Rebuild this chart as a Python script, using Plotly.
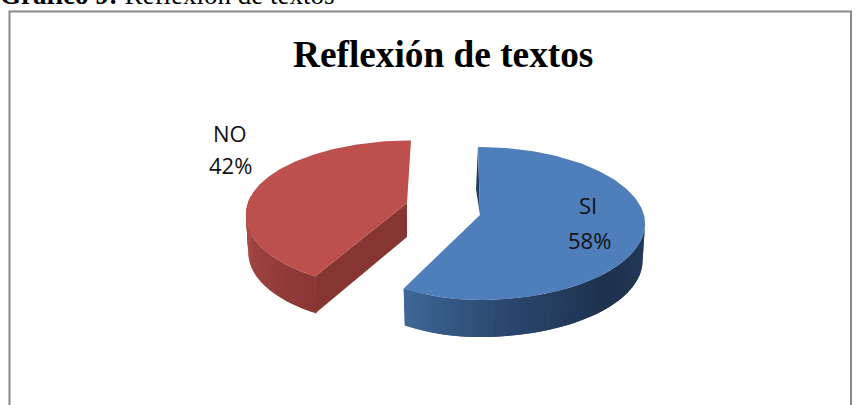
import numpy as np
import plotly.graph_objects as go

categories = ["SI", "NO"]
values = [58, 42]
face_colors = ["#4e7fbb", "#bd504c"]
title_text = "Reflexión de textos"
caption_bold = "Gráfico 9:"
caption_rest = " Reflexión de textos"

W, H = 862, 405
K = 0.111
RY = 75.6
DEPTH = 37
CENTERS = [(480, 215), (407, 203)]
RADII = [164, 159]
LEFT_RADII = [143, 159]
BACK_SCALE = [1.0, 0.92]
BACK_SHIFT = [-2, 4]
FRONT_SHIFT = [0, -8]
NAME_POS = [(588, 205), (230, 133)]
PCT_POS = [(589, 240), (230, 165)]


def rim(i, deg):
    t = np.radians(deg)
    sn, cs = np.sin(t), np.cos(t)
    s = 1 / (1 - K * sn)
    rx = RADII[i] if cs >= 0 else LEFT_RADII[i]
    ry = RY * (BACK_SCALE[i] if sn < 0 else 1.0)
    return (CENTERS[i][0] + rx * cs * s + BACK_SHIFT[i] * max(-sn, 0) + FRONT_SHIFT[i] * max(sn, 0),
            CENTERS[i][1] + ry * sn * s)


def mix(a, b, f):
    return "rgb(%d,%d,%d)" % tuple(round(a[k] + (b[k] - a[k]) * f) for k in range(3))


def poly(fig, xs, ys, color):
    fig.add_trace(go.Scatter(x=list(xs), y=list(ys), mode="lines", fill="toself",
                             fillcolor=color, line=dict(width=0),
                             hoverinfo="skip", showlegend=False))


def wall(fig, i, a0, a1, stops, n=60):
    # painted from the far end so each strip overlaps the previous one (no seams)
    angles = np.linspace(a0, a1, n + 1)
    cx = CENTERS[i][0]
    step = angles[1] - angles[0]
    for k in range(n):
        a_end = angles[k + 1] + step if k < n - 1 else angles[k + 1]
        arc = [rim(i, a) for a in (angles[k], angles[k + 1], a_end)]
        tx = [p[0] for p in arc]
        ty = [p[1] for p in arc]
        bx = [cx + (x - cx) * 0.985 for x in tx]
        by = [y + DEPTH for y in ty]
        f = (k + 0.5) / n * (len(stops) - 1)
        j = min(int(f), len(stops) - 2)
        poly(fig, tx + bx[::-1], ty + by[::-1], mix(stops[j], stops[j + 1], f - j))


fig = go.Figure()
start = -90
split = start + values[0] / sum(values) * 360
end = start + 360

# blue outer wall (stops run from the right end to the front-left corner)
wall(fig, 0, 8, split, [(0x23, 0x3b, 0x5c), (0x1e, 0x31, 0x4d), (0x2a, 0x47, 0x6e), (0x3f, 0x68, 0x98)])
# blue back sliver
c = CENTERS[0]
tx, ty = rim(0, start)
poly(fig, [tx, c[0], tx - 2], [ty, c[1], (ty + c[1]) / 2 + 8], "#1f3a5c")

# red inner wall and outer wall
c2 = CENTERS[1]
sx, sy = rim(1, split)
poly(fig, [c2[0], sx, sx, c2[0]], [c2[1], sy, sy + DEPTH, c2[1] + DEPTH - 3], "#873533")
wall(fig, 1, split, 186, [(0x8a, 0x37, 0x35), (0x9c, 0x42, 0x3f), (0xb0, 0x4d, 0x4a)])

# top faces
for i, c in enumerate(CENTERS):
    a0, a1 = (start, split) if i == 0 else (split, end)
    pts = [rim(i, a) for a in np.linspace(a0, a1, 160)]
    poly(fig, [c[0]] + [p[0] for p in pts], [c[1]] + [p[1] for p in pts], face_colors[i])

for name, val, np_, pp in zip(categories, values, NAME_POS, PCT_POS):
    fig.add_annotation(x=np_[0], y=np_[1], text=name, showarrow=False,
                       font=dict(family="Open Sans", size=22, color="#111"))
    fig.add_annotation(x=pp[0], y=pp[1], text=f"{val}%", showarrow=False,
                       font=dict(family="Open Sans", size=22, color="#111"))

fig.add_annotation(x=442.5, y=54, text=f"<b>{title_text}</b>", showarrow=False,
                   font=dict(family="Liberation Serif", size=37.3, color="#000"))
fig.add_annotation(x=0, y=0, xanchor="left", yanchor="middle", showarrow=False, xshift=-2, yshift=5,
                   text=f"<b>{caption_bold}</b>{caption_rest}",
                   font=dict(family="Liberation Serif", size=27, color="#000"))

fig.add_shape(type="rect", x0=9.5, y0=11.5, x1=851, y1=420, line=dict(color="#8a8a8a", width=2),
              layer="below")

fig.update_layout(width=W, height=H, margin=dict(l=0, r=0, t=0, b=0), autosize=False,
                  plot_bgcolor="white", paper_bgcolor="white", showlegend=False,
                  xaxis=dict(range=[0, W], visible=False, fixedrange=True),
                  yaxis=dict(range=[H, 0], visible=False, fixedrange=True))
fig.write_html("out.html", config={"displayModeBar": False},
               post_script="document.body.style.margin='0';document.body.style.overflow='hidden';")
